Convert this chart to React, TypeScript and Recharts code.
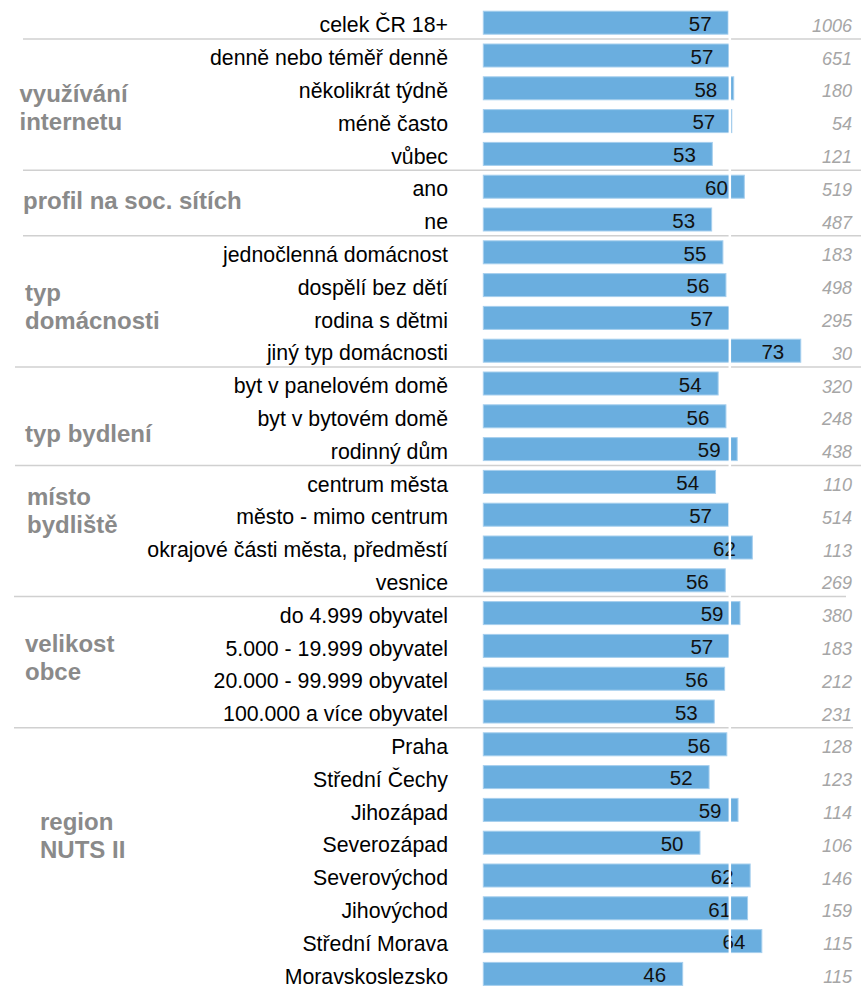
import React from 'react';
import { BarChart, Bar, XAxis, YAxis, ReferenceLine } from 'recharts';

// ---------- data ----------
const categories = [
  'celek ČR 18+',
  'denně nebo téměř denně',
  'několikrát týdně',
  'méně často',
  'vůbec',
  'ano',
  'ne',
  'jednočlenná domácnost',
  'dospělí bez dětí',
  'rodina s dětmi',
  'jiný typ domácnosti',
  'byt v panelovém domě',
  'byt v bytovém domě',
  'rodinný dům',
  'centrum města',
  'město - mimo centrum',
  'okrajové části města, předměstí',
  'vesnice',
  'do 4.999 obyvatel',
  '5.000 - 19.999 obyvatel',
  '20.000 - 99.999 obyvatel',
  '100.000 a více obyvatel',
  'Praha',
  'Střední Čechy',
  'Jihozápad',
  'Severozápad',
  'Severovýchod',
  'Jihovýchod',
  'Střední Morava',
  'Moravskoslezsko',
];

const values = [
  56.6, 57.0, 57.9, 57.45, 52.95, 60.35, 52.8, 55.4, 56.1, 56.95, 73.4, 54.3, 56.1, 58.7, 53.7,
  56.7, 62.2, 55.95, 59.35, 56.97, 55.8, 53.4, 56.3, 52.2, 58.9, 50.1, 61.7, 61.1, 64.4, 46.1,
];

const sampleSizes = [
  1006, 651, 180, 54, 121, 519, 487, 183, 498, 295, 30, 320, 248, 438, 110, 514, 113, 269, 380, 183,
  212, 231, 128, 123, 114, 106, 146, 159, 115, 115,
];

const groupNames = [
  ['využívání', 'internetu'],
  ['profil na soc. sítích'],
  ['typ', 'domácnosti'],
  ['typ bydlení'],
  ['místo', 'bydliště'],
  ['velikost', 'obce'],
  ['region', 'NUTS II'],
];
const groupStarts = [1, 5, 7, 11, 14, 18, 22];

const totalValue = 57;

// ---------- layout ----------
const CHART_W = 861;
const CHART_H = 1000;
const MARGIN = { top: 6.2, right: 31.7, bottom: 9.8, left: 0 };
const PLOT_H = CHART_H - MARGIN.top - MARGIN.bottom;
const ROW_H = PLOT_H / categories.length;
const FONT = '"Liberation Sans", Arial, sans-serif';

// group label placement (x, baseline offset from first row centre)
const groupLabelX = [19.5, 23, 25, 25, 27, 25, 40];
const groupLabelDy = [46.3, 22.4, 48.8, 58.3, 23, 38.7, 85.8];
const GROUP_LINE_H = 27.8;
// separator lines (drawn above rows 1, groupStarts...)
const sepRows = [1, ...groupStarts];
const sepX1 = [23, 23, 23, 23, 15, 15, 14, 14];
const sepX2 = [861, 861, 861, 861, 861, 861, 846, 853];

const data = categories.map((c, i) => ({ label: c, value: values[i], n: sampleSizes[i] }));

function RowTick(props: any) {
  const { y, payload } = props;
  const i = payload && typeof payload.index === 'number' ? payload.index : props.index;
  const sepIdx = sepRows.indexOf(i);
  const gIdx = groupStarts.indexOf(i);
  return (
    <g>
      {sepIdx >= 0 && (
        <line
          x1={sepX1[sepIdx]}
          x2={sepX2[sepIdx]}
          y1={y - ROW_H / 2}
          y2={y - ROW_H / 2}
          stroke="#d0d0d0"
          strokeWidth={1.5}
        />
      )}
      <text x={448} y={y + 9.8} textAnchor="end" fontSize={21.3} fontFamily={FONT} fill="#000">
        {payload.value}
      </text>
      <text
        x={852}
        y={y + 9.2}
        textAnchor="end"
        fontSize={18}
        fontStyle="italic"
        fontFamily={FONT}
        fill="#a6a6a6"
      >
        {sampleSizes[i]}
      </text>
      {gIdx >= 0 &&
        groupNames[gIdx].map((line, k) => (
          <text
            key={k}
            x={groupLabelX[gIdx]}
            y={y + groupLabelDy[gIdx] + k * GROUP_LINE_H}
            fontSize={24}
            fontWeight="bold"
            fontFamily={FONT}
            fill="#8a8a8a"
          >
            {line}
          </text>
        ))}
    </g>
  );
}

function BarShape(props: any) {
  const { x, y, width, height, payload } = props;
  const v = payload ? payload.value : props.value;
  return (
    <g>
      <rect x={x} y={y} width={width} height={height} fill="#6AAEDF" stroke="#A6CFEE" strokeWidth={1} />
      <text
        x={x + width - 16.5}
        y={y + height / 2 + 8.2}
        textAnchor="end"
        fontSize={20.5}
        fontFamily={FONT}
        fill="#111"
      >
        {Math.round(v)}
      </text>
    </g>
  );
}

export default function App() {
  return (
    <div
      style={{
        position: 'absolute',
        left: 0,
        top: 0,
        width: CHART_W,
        height: 986,
        overflow: 'hidden',
        background: '#fff',
      }}
    >
      <BarChart
        width={CHART_W}
        height={CHART_H}
        data={data}
        layout="vertical"
        margin={MARGIN}
        barSize={23}
      >
        <XAxis type="number" domain={[0, 80]} hide />
        <YAxis
          type="category"
          dataKey="label"
          width={483.3}
          interval={0}
          tickLine={false}
          axisLine={false}
          tick={<RowTick />}
        />
        <Bar dataKey="value" isAnimationActive={false} shape={<BarShape />} />
        <ReferenceLine
          x={totalValue}
          stroke="#ffffff"
          strokeWidth={2.5}
          ifOverflow="visible"
          {...({ zIndex: 2500 } as any)}
        />
      </BarChart>
    </div>
  );
}
